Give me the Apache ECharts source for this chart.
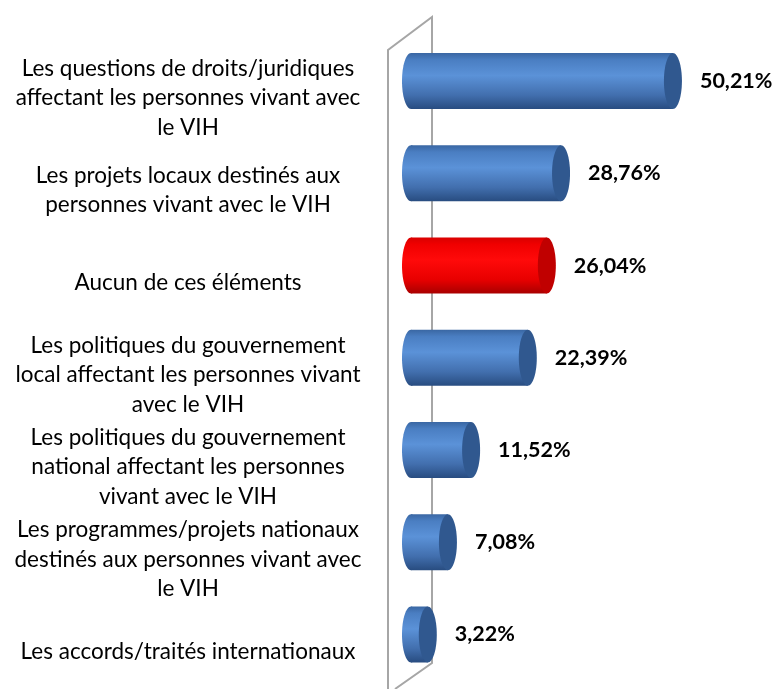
<!DOCTYPE html>
<html>
<head>
<meta charset="utf-8">
<script src="https://cdn.jsdelivr.net/npm/echarts@6/dist/echarts.min.js"></script>
<style>html,body{margin:0;padding:0;background:#fff}#c{width:775px;height:689px}</style>
</head>
<body>
<div id="c"></div>
<script>
const categories = [
  "Les questions de droits/juridiques\naffectant les personnes vivant avec\nle VIH",
  "Les projets locaux destinés aux\npersonnes vivant avec le VIH",
  "Aucun de ces éléments",
  "Les politiques du gouvernement\nlocal affectant les personnes vivant\navec le VIH",
  "Les politiques du gouvernement\nnational affectant les personnes\nvivant avec le VIH",
  "Les programmes/projets nationaux\ndestinés aux personnes vivant avec\nle VIH",
  "Les accords/traités internationaux"
];
const values = [50.21, 28.76, 26.04, 22.39, 11.52, 7.08, 3.22];
const highlighted = [false, false, true, false, false, false, false];

const chart = echarts.init(document.getElementById('c'));

function grad(stops) {
  return new echarts.graphic.LinearGradient(0, 0, 0, 1, stops);
}
const blueBody = [
  {offset: 0, color: '#3a67a3'}, {offset: 0.12, color: '#4a7ec2'},
  {offset: 0.4, color: '#5b92d8'}, {offset: 0.75, color: '#426fae'},
  {offset: 1, color: '#284c80'}
];
const blueCap = '#30588f';
const redBody = [
  {offset: 0, color: '#d90000'}, {offset: 0.12, color: '#f00000'},
  {offset: 0.4, color: '#ff0a0a'}, {offset: 0.75, color: '#e80000'},
  {offset: 1, color: '#a80000'}
];
const redCap = '#c00000';

function fmt(v) { return v.toFixed(2).replace('.', ',') + '%'; }

const data = values.map((v, i) => [v, i, highlighted[i] ? 1 : 0]);
const SHIFT = 17; // bars sit above their label (3D floor projection)

chart.setOption({
  animation: false,
  grid: {left: 420, right: 42, top: 35 + SHIFT, bottom: 8.4 - SHIFT, outerBoundsMode: 'none', containLabel: false},
  xAxis: {type: 'value', min: 0, max: 60, show: false},
  yAxis: {
    type: 'category', data: categories, inverse: true,
    axisLine: {show: false}, axisTick: {show: false}, splitLine: {show: false},
    axisLabel: {
      interval: 0, hideOverlap: false,
      margin: 232, align: 'center', fontFamily: 'Lato', fontSize: 22.5,
      lineHeight: 29.5, color: '#000'
    }
  },
  graphic: [
    {type: 'polyline', z: -10, shape: {points: [[388, 689], [388, 50], [432, 17], [432, 663], [395, 689]]},
     style: {stroke: '#a6a6a6', lineWidth: 2, fill: null}}
  ],
  series: [{
    type: 'custom',
    z: 5,
    data: data,
    encode: {x: 0, y: 1},
    clip: false,
    renderItem: function (params, api) {
      const val = api.value(0);
      const idx = api.value(1);
      const red = api.value(2) === 1;
      const end = api.coord([val, idx]);
      const start = api.coord([0, idx]);
      const h = api.size([0, 1])[1] * 0.607;
      const cy = end[1] - SHIFT;
      const rx = 9, ry = h / 2;
      const x0 = start[0] - 18;
      const x1 = end[0];
      const body = grad(red ? redBody : blueBody);
      const body2 = grad(red ? redBody : blueBody);
      return {
        type: 'group',
        children: [
          {type: 'ellipse', shape: {cx: x0 + rx, cy: cy, rx: rx, ry: ry}, style: {fill: body}},
          {type: 'rect', shape: {x: x0 + rx, y: cy - ry, width: Math.max(0, x1 - x0 - 2 * rx), height: h}, style: {fill: body2}},
          {type: 'ellipse', shape: {cx: x1 - rx, cy: cy, rx: rx, ry: ry}, style: {fill: red ? redCap : blueCap}},
          {type: 'text', style: {text: fmt(val), x: x1 + 18, y: cy, verticalAlign: 'middle', align: 'left',
            fontFamily: 'Lato', fontWeight: 'bold', fontSize: 21.5, fill: '#000'}}
        ]
      };
    }
  }]
});
</script>
</body>
</html>
